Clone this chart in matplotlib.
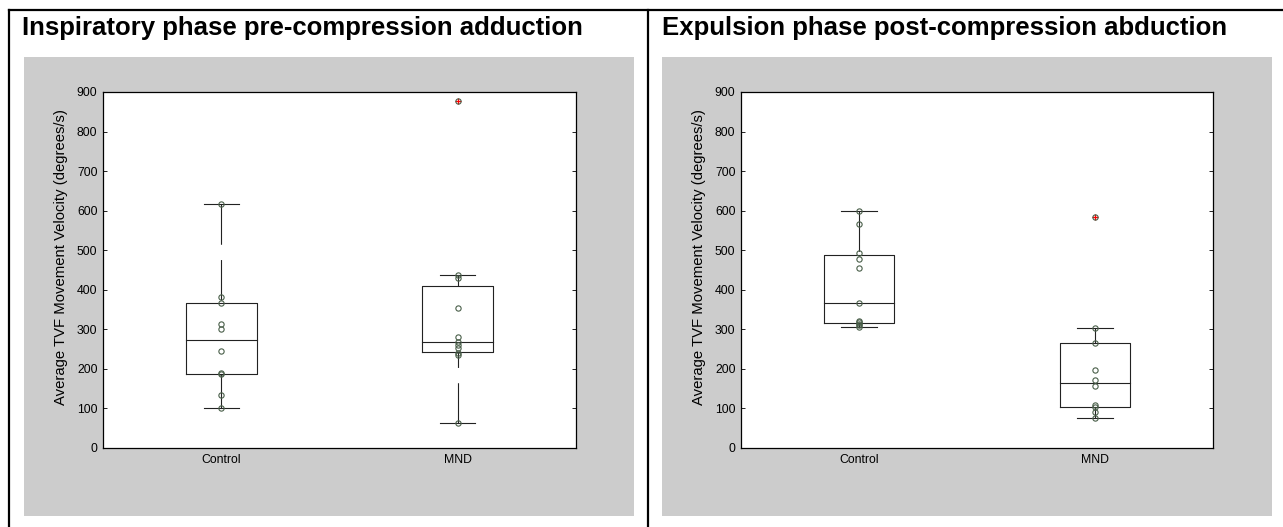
import numpy as np
import matplotlib
matplotlib.use("Agg")
import matplotlib.pyplot as plt
from matplotlib.lines import Line2D
from matplotlib.patches import Rectangle

plt.rcParams["font.family"] = ["Liberation Sans", "DejaVu Sans"]
plt.rcParams["lines.scale_dashes"] = False

# ---- data -------------------------------------------------------------
groups = ["Control", "MND"]

inspiratory_control = [617, 383, 367, 314, 301, 246, 190, 187, 134, 100]
inspiratory_mnd = [877, 437, 429, 353, 280, 267, 260, 252, 239, 235, 62]

expulsion_control = [599, 567, 492, 478, 454, 366, 322, 318, 314, 310, 306]
expulsion_mnd = [585, 304, 266, 197, 172, 157, 109, 103, 92, 75]

panel_titles = ["Inspiratory phase pre-compression adduction",
                "Expulsion phase post-compression abduction"]
y_label = "Average TVF Movement Velocity (degrees/s)"
y_ticks = list(range(0, 901, 100))

panels = [[inspiratory_control, inspiratory_mnd],
          [expulsion_control, expulsion_mnd]]


def quantile_mat(values, p):
    """Quantile with the (i - 0.5)/n plotting-position rule."""
    x = np.sort(np.asarray(values, dtype=float))
    n = len(x)
    pos = p * n + 0.5
    if pos <= 1:
        return x[0]
    if pos >= n:
        return x[-1]
    lo = int(np.floor(pos))
    frac = pos - lo
    return x[lo - 1] + frac * (x[lo] - x[lo - 1])


def box_stats(values):
    x = np.asarray(values, dtype=float)
    q1 = quantile_mat(x, 0.25)
    med = quantile_mat(x, 0.5)
    q3 = quantile_mat(x, 0.75)
    iqr = q3 - q1
    hi_lim = q3 + 1.5 * iqr
    lo_lim = q1 - 1.5 * iqr
    inside = x[(x >= lo_lim) & (x <= hi_lim)]
    outl = x[(x < lo_lim) | (x > hi_lim)]
    return dict(q1=q1, med=med, q3=q3, whi=inside.max(), wlo=inside.min(), out=outl)


W, H = 1283, 527
fig = plt.figure(figsize=(W / 100, H / 100), dpi=100)
fig.patch.set_facecolor("white")


def fx(px):
    return px / W


def fy(py):
    return 1 - py / H


# grey figure areas behind each chart
for x0, x1 in [(24, 634), (662, 1272)]:
    fig.patches.append(Rectangle((fx(x0), fy(516)), fx(x1 - x0), (516 - 57) / H,
                                 transform=fig.transFigure, facecolor="#cccccc",
                                 edgecolor="none", zorder=-10))

# table frame lines
frame_kw = dict(transform=fig.transFigure, color="black", lw=1.6, zorder=-5)
fig.lines.append(Line2D([fx(9), fx(1283)], [fy(10), fy(10)], **frame_kw))
fig.lines.append(Line2D([fx(9), fx(9)], [fy(10), fy(527)], **frame_kw))
fig.lines.append(Line2D([fx(648), fx(648)], [fy(10), fy(527)], **frame_kw))

# panel titles
for tx, title in zip([22, 662], panel_titles):
    fig.text(fx(tx), fy(35), title, fontsize=18.5, fontweight="bold",
             ha="left", va="baseline")

axes_px = [(103, 576), (741, 1213)]
top_px, bot_px = 92, 448

box_w = 0.3
cap_w = 0.15
line_c = "#222222"
dot_c = "#4a5f4a"
whisker_dash = (0, (29, 11))

for (ax0, ax1), data in zip(axes_px, panels):
    ax = fig.add_axes([fx(ax0), fy(bot_px), fx(ax1 - ax0), (bot_px - top_px) / H])
    ax.set_facecolor("white")
    for i, vals in enumerate(data):
        pos = i + 1
        s = box_stats(vals)
        # box
        ax.plot([pos - box_w / 2, pos + box_w / 2, pos + box_w / 2, pos - box_w / 2, pos - box_w / 2],
                [s["q1"], s["q1"], s["q3"], s["q3"], s["q1"]], color=line_c, lw=0.8, zorder=2)
        # median
        ax.plot([pos - box_w / 2, pos + box_w / 2], [s["med"], s["med"]],
                color=line_c, lw=0.8, zorder=2)
        # whiskers, dashed from their ends towards the box
        ax.plot([pos, pos], [s["whi"], s["q3"]], color=line_c, lw=0.8,
                linestyle=whisker_dash, zorder=2)
        ax.plot([pos, pos], [s["wlo"], s["q1"]], color=line_c, lw=0.8,
                linestyle=whisker_dash, zorder=2)
        # caps
        for v in (s["whi"], s["wlo"]):
            ax.plot([pos - cap_w / 2, pos + cap_w / 2], [v, v], color=line_c, lw=0.8, zorder=2)
        # outliers
        if len(s["out"]):
            ax.plot(np.full(len(s["out"]), pos), s["out"], linestyle="none", marker="+",
                    color="red", markersize=5, mew=0.9, zorder=3)
        # individual observations
        ax.plot(np.full(len(vals), pos), vals, linestyle="none", marker="o",
                markersize=3.8, mfc="none", mec=dot_c, mew=0.8, zorder=4)

    ax.set_xlim(0.5, 2.5)
    ax.set_ylim(0, 900)
    ax.set_yticks(y_ticks)
    ax.set_xticks([1, 2])
    ax.set_xticklabels(groups)
    ax.tick_params(axis="both", direction="in", length=3, width=0.6, labelsize=8.8,
                   pad=4, colors="black")
    ax.tick_params(axis="y", right=True)
    ax.tick_params(axis="x", length=0)
    for sp in ax.spines.values():
        sp.set_linewidth(0.9)
        sp.set_color("black")
    ax.set_ylabel(y_label, fontsize=10.7, va="center")
    ax.yaxis.set_label_coords(-0.089, 0.535)

fig.savefig("out.png", dpi=100)
